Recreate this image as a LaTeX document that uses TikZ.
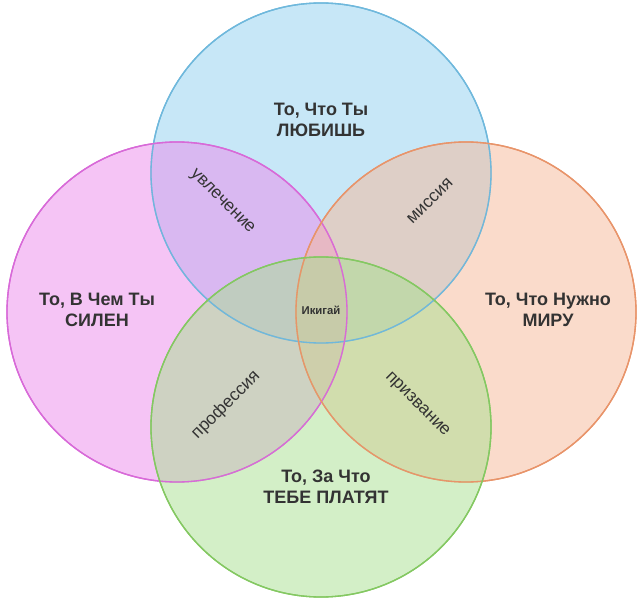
\documentclass[tikz,border=0pt]{standalone}
\usepackage{fontspec}
\setmainfont{Liberation Sans}
\begin{document}
\begin{tikzpicture}[x=0.75pt,y=-0.75pt,
  circ/.style={draw,line width=1pt,fill opacity=0.5},
  big/.style={font=\bfseries\fontsize{13.5}{16}\selectfont,align=center,text=black!80},
  small/.style={font=\fontsize{13}{15}\selectfont,text=black!80}]
\useasboundingbox (0,0) rectangle (644,600);
\definecolor{bstroke}{HTML}{6FB8DC}\definecolor{bfill}{HTML}{8FCFEF}
\definecolor{pstroke}{HTML}{D86AD8}\definecolor{pfill}{HTML}{EC8AEC}
\definecolor{ostroke}{HTML}{E8946A}\definecolor{ofill}{HTML}{F6B898}
\definecolor{gstroke}{HTML}{84C862}\definecolor{gfill}{HTML}{A8E090}
\path[circ,draw=bstroke,fill=bfill] (321,173) circle [radius=170];
\path[circ,draw=pstroke,fill=pfill] (177,312) circle [radius=170];
\path[circ,draw=ostroke,fill=ofill] (466,312) circle [radius=170];
\path[circ,draw=gstroke,fill=gfill] (321,427) circle [radius=170];
\draw[bstroke,line width=1pt] (321,173) circle [radius=170];
\draw[pstroke,line width=1pt] (177,312) circle [radius=170];
\draw[ostroke,line width=1pt] (466,312) circle [radius=170];
\draw[gstroke,line width=1pt] (321,427) circle [radius=170];
\node[big] (a) at (321,120) {То, Что Ты\\ЛЮБИШЬ};
\node[big] (b) at (97,310) {То, В Чем Ты\\СИЛЕН};
\node[big] (c) at (548,310) {То, Что Нужно\\МИРУ};
\node[big] (d) at (326,487) {То, За Что\\ТЕБЕ ПЛАТЯТ};
\node[small,rotate=-45] (e) at (222,202) {увлечение};
\node[small,rotate=45] (f) at (430,201) {миссия};
\node[small,rotate=45] (g) at (226,405) {профессия};
\node[small,rotate=-45] (h) at (417,405) {призвание};
\node[font=\bfseries\fontsize{8.5}{10}\selectfont,text=black!80] (i) at (321,310) {Икигай};
\end{tikzpicture}
\end{document}
